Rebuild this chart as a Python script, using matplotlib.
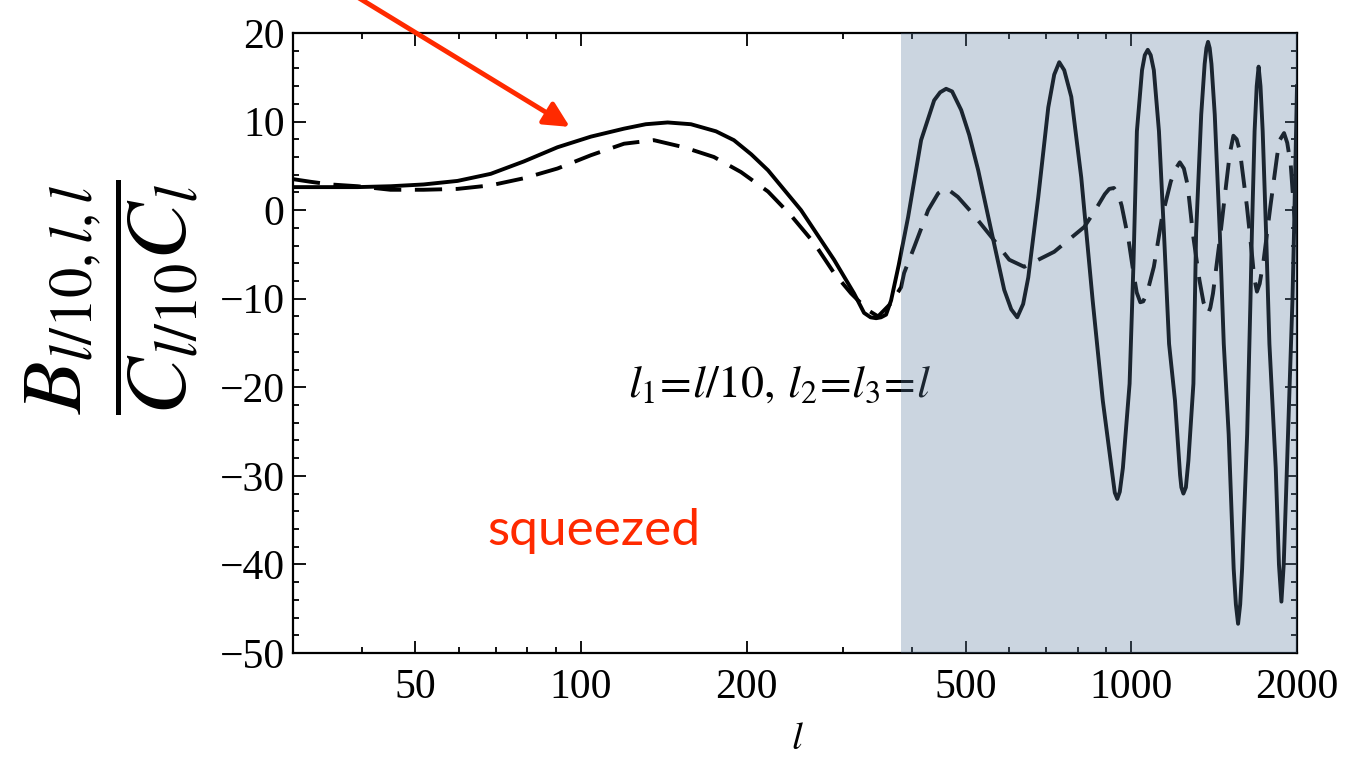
import matplotlib
matplotlib.use('Agg')
import matplotlib.pyplot as plt
from matplotlib.ticker import FixedLocator, NullFormatter
import numpy as np

plt.rcParams['font.family'] = ['Liberation Serif', 'DejaVu Serif']
plt.rcParams['mathtext.fontset'] = 'stix'

# courbe pleine
l_plein = [30, 36.6, 39.3, 45.2, 51.8, 59.7, 68.6, 78.8, 90.7, 104.3, 119.8, 131.2,
           143.8, 158.5, 176.0, 189.7, 204.0, 218.8, 251.2, 288.4, 313.6, 327.0,
           336.0, 343.9, 351.0, 358.5, 366.1, 378.0, 393.1, 415.1, 438.4, 449.5,
           460.9, 472.6, 490.9, 507.6, 527.1, 556.6, 587.7, 605.2, 620.6, 636.1,
           649.9, 677.7, 706.6, 724.4, 739.8, 755.4, 778.0, 811.1, 850.8, 887.6,
           925.6, 933.3, 943.1, 953.0, 965.5, 992.9, 1009.2, 1023.7, 1045.9, 1058.1,
           1071.3, 1084.6, 1098.9, 1122.7, 1146.5, 1171.2, 1200.6, 1226.4, 1233.0,
           1243.5, 1256.5, 1269.8, 1296.7, 1311.4, 1339.8, 1359.1, 1369.1, 1378.6,
           1388.1, 1398.4, 1417.8, 1448.2, 1472.3, 1502.8, 1534.6, 1548.8, 1563.1,
           1577.0, 1589.6, 1623.6, 1646.2, 1656.0, 1674.9, 1689.8, 1703.3, 1716.8,
           1732.6, 1757.5, 1782.0, 1829.8, 1854.6, 1873.8, 1891.9, 1908.6, 1935.2,
           1962.2, 1975.0, 2000]
v_plein = [2.6, 2.6, 2.6, 2.7, 2.9, 3.3, 4.1, 5.5, 7.1, 8.3, 9.2, 9.7,
           9.9, 9.7, 8.9, 7.9, 6.3, 4.5, 0.0, -5.6, -9.4, -11.6,
           -12.1, -12.2, -12.1, -11.8, -10.2, -6.2, -0.8, 7.9, 12.4, 13.3,
           13.7, 13.4, 11.3, 8.5, 4.5, -2.3, -9.0, -11.2, -12.1, -10.6,
           -7.6, 1.5, 11.6, 15.3, 16.7, 15.8, 12.8, 3.7, -10.2, -21.5,
           -30.2, -31.9, -32.6, -31.8, -29.1, -19.6, -6.0, 8.9, 15.8, 17.5,
           18.1, 17.5, 15.8, 8.9, -2.6, -15.1, -21.5, -29.9, -31.3,
           -32.0, -31.3, -28.3, -19.6, -2.6, 10.8, 16.5, 18.3, 19.0,
           18.3, 16.5, 10.8, -2.6, -15.1, -25.3, -40.5, -44.5, -46.7,
           -44.5, -40.5, -25.3, -10.2, -2.6, 8.9, 14.0, 16.2, 14.0,
           8.9, -2.6, -15.1, -29.1, -40.0, -44.2, -40.0, -32.9, -21.5,
           -10.2, -2.6, 14.0]

# courbe en tirets
l_tirets = [30, 32.3, 35.1, 39.3, 45.1, 51.8, 59.7, 68.6, 78.8, 90.7, 104.3, 119.8,
            135.7, 153.9, 174.5, 195.4, 218.8, 240.9, 265.2, 288.4, 309.7, 332.5,
            346.7, 366.1, 381.8, 386.6, 403.1, 427.5, 445.8, 460.9, 484.0, 511.9,
            556.6, 600.2, 639.1, 724.4, 821.3, 858.0, 895.0, 912.0, 930.0, 947.0,
            960.5, 988.3, 1009.2, 1023.0, 1038.4, 1051.0, 1067.9, 1098.9, 1137.9,
            1179.2, 1202.0, 1225.0, 1246.0, 1266.0, 1293.3, 1329.8, 1352.5, 1378.6,
            1392.0, 1407.4, 1448.2, 1489.0, 1510.0, 1532.8, 1554.0, 1575.8, 1621.4,
            1656.0, 1672.0, 1691.4, 1711.0, 1739.9, 1790.0, 1841.0, 1860.0, 1894.4,
            1920.0, 1948.4, 1976.3, 2000]
v_tirets = [3.5, 3.2, 2.9, 2.7, 2.3, 2.3, 2.4, 2.8, 3.6, 4.7, 6.2, 7.5,
            7.9, 7.1, 6.0, 4.3, 2.1, -0.6, -3.7, -7.1, -9.4, -11.3,
            -12.0, -10.5, -8.7, -7.1, -4.2, 0.0, 1.9, 2.5, 1.5, -0.2,
            -3.0, -5.6, -6.4, -4.7, -1.9, -0.1, 1.8, 2.4, 2.5, 1.8,
            0.5, -3.3, -7.1, -9.3, -10.4, -10.3, -9.4, -6.4, -0.7,
            3.2, 4.6, 5.4, 4.7, 2.8, -2.6, -7.9, -10.4, -11.7,
            -11.0, -9.4, -3.3, 3.2, 6.4, 8.4, 8.0, 6.6, 0.5,
            -4.9, -7.6, -9.2, -8.3, -5.6, 0.5, 6.2, 7.9, 8.7,
            7.6, 5.1, -0.3, -3.0]

l_zone = [382, 2000]
x_majeurs = [50, 100, 200, 500, 1000, 2000]
x_mineurs = [30, 40, 60, 70, 80, 90, 300, 400, 600, 700, 800, 900]
rouge = '#ff2a00'

fig = plt.figure(figsize=(13.46, 7.65), dpi=100)
ax = fig.add_axes([293/1346, 112/765, 1004/1346, 620/765])

ax.plot(l_plein, v_plein, color='black', lw=2.8, solid_joinstyle='round')
ax.plot(l_tirets, v_tirets, color='black', lw=2.8, dashes=(7, 3.5))

# zone grisee posee par dessus les courbes
ax.axvspan(l_zone[0], l_zone[1], color=(0.35, 0.48, 0.61), alpha=0.31, lw=0, zorder=10)

ax.set_xscale('log')
ax.set_xlim(30, 2000)
ax.set_ylim(-50, 20)
ax.xaxis.set_major_locator(FixedLocator(x_majeurs))
ax.xaxis.set_minor_locator(FixedLocator(x_mineurs))
ax.set_xticklabels([str(v) for v in x_majeurs])
ax.xaxis.set_minor_formatter(NullFormatter())
ax.set_yticks(np.arange(-50, 21, 10))
ax.yaxis.set_minor_locator(FixedLocator(np.arange(-50, 21, 2)))

ax.tick_params(which='both', direction='in', top=True, right=True, width=1.3, labelsize=30)
ax.tick_params(which='major', length=9)
ax.tick_params(which='minor', length=4.5)
ax.tick_params(axis='x', pad=11)
ax.tick_params(axis='y', pad=6)
for s in ax.spines.values():
    s.set_linewidth(1.6)

# titres des axes
ax.set_xlabel(r'$l$', fontsize=28)
ax.xaxis.set_label_coords(0.502, -0.11)
fig.text(112/1346, 1 - 297/765, r'$\dfrac{B_{l/10,l,l}}{C_{l/10}C_l}$',
         rotation=90, ha='center', va='center', fontsize=62)

# annotations
ax.text(122, -21.1, r'$l_1\!=\!l/10,\, l_2\!=\!l_3\!=\!l$', fontsize=33, ha='left', va='baseline')
ax.text(67.5, -37.8, 'squeezed', color=rouge, fontsize=37, family='Lato', ha='left', va='baseline')
ax.annotate('', xy=(95.5, 9.4), xycoords='data', xytext=(300, 803), textcoords='figure pixels',
            arrowprops=dict(arrowstyle='-|>', color=rouge, lw=3.5, mutation_scale=38,
                            shrinkA=0, shrinkB=0),
            annotation_clip=False, zorder=12)

fig.savefig('out.png', dpi=100)
